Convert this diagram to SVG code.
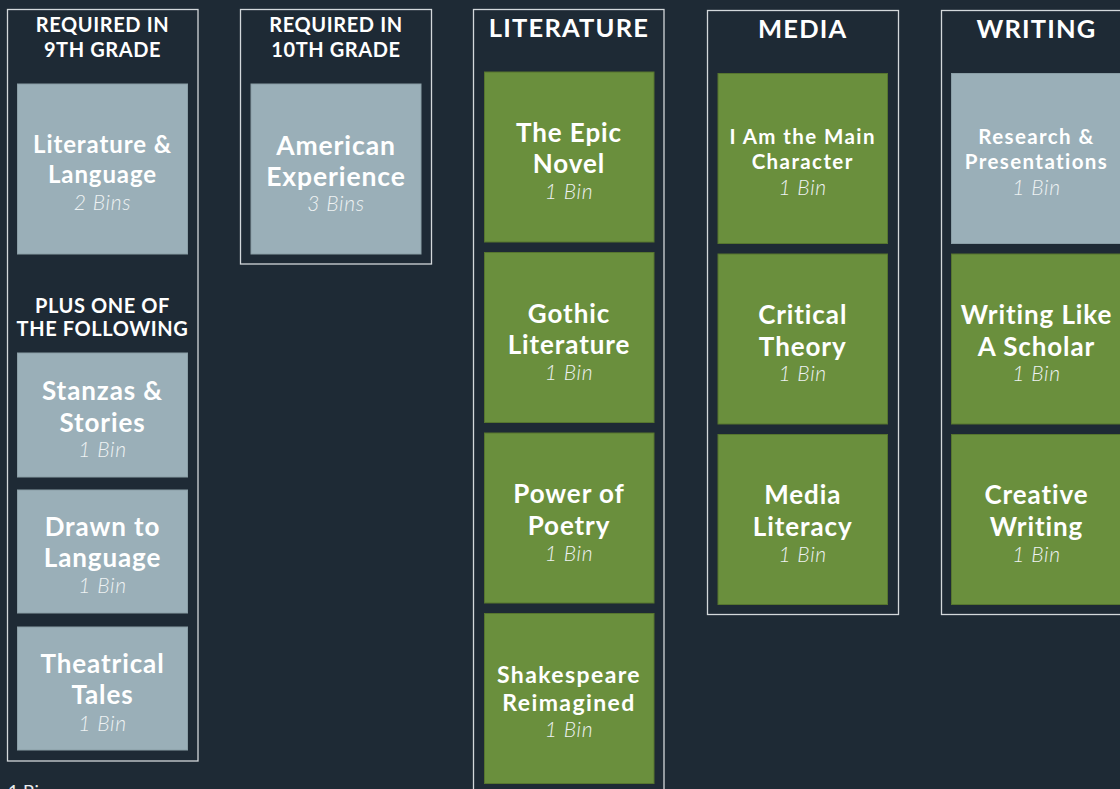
<svg xmlns="http://www.w3.org/2000/svg" width="1120" height="789" viewBox="0 0 1120 789">
<style>
.bg{fill:#1e2a35}
.frame{fill:none;stroke:#d3d8db;stroke-width:1.3}
.gray{fill:#9aafb8;stroke:#8a9ea6;stroke-width:1}
.green{fill:#6a8f3d;stroke:#56752f;stroke-width:1}
.hd{font-family:Lato,"Liberation Sans",sans-serif;font-weight:700;fill:#ffffff;text-anchor:middle}
.h1{font-size:20px;letter-spacing:0.6px}
.h2{font-size:25.5px;letter-spacing:1.2px}
.t{font-family:Lato,"Liberation Sans",sans-serif;font-weight:700;fill:#ffffff;text-anchor:middle;letter-spacing:0.9px}
.s{letter-spacing:1.4px}
.b{font-family:Lato,"Liberation Sans",sans-serif;font-weight:300;font-style:italic;font-size:21px;letter-spacing:0.7px;fill:#eef2f3;text-anchor:middle}
.note{font-family:Lato,"Liberation Sans",sans-serif;font-size:18px;fill:#e8ecee}
</style>
<rect class="bg" x="0" y="0" width="1120" height="789"/>

<g id="col-9th">
<rect class="frame" x="7.5" y="9.5" width="190.5" height="751.5"/>
<text class="hd h1" x="102.5" y="31.5">REQUIRED IN</text>
<text class="hd h1" x="102.5" y="56.5">9TH GRADE</text>
<text class="hd h1" x="102.5" y="312.5">PLUS ONE OF</text>
<text class="hd h1" x="102.5" y="336" letter-spacing="0.1">THE FOLLOWING</text>
</g>
<g id="node-lit-lang">
<rect class="gray" x="17.5" y="84" width="170" height="170"/>
<text class="t" x="102.5" y="153" font-size="24" letter-spacing="0.4">Literature &amp;</text>
<text class="t" x="102.5" y="183" font-size="24" letter-spacing="0.4">Language</text>
<text class="b" x="102.5" y="209.5">2 Bins</text>
</g>
<g id="node-stanzas">
<rect class="gray" x="17.5" y="353" width="170" height="124"/>
<text class="t" x="102.5" y="400" font-size="26">Stanzas &amp;</text>
<text class="t" x="102.5" y="431.5" font-size="26">Stories</text>
<text class="b" x="102.5" y="456.5">1 Bin</text>
</g>
<g id="node-drawn">
<rect class="gray" x="17.5" y="490" width="170" height="123"/>
<text class="t" x="102.5" y="536" font-size="26">Drawn to</text>
<text class="t" x="102.5" y="567" font-size="26">Language</text>
<text class="b" x="102.5" y="593">1 Bin</text>
</g>
<g id="node-theatrical">
<rect class="gray" x="17.5" y="627" width="170" height="123"/>
<text class="t" x="102.5" y="673" font-size="26">Theatrical</text>
<text class="t" x="102.5" y="704" font-size="26">Tales</text>
<text class="b" x="102.5" y="730.5">1 Bin</text>
</g>

<g id="col-10th">
<rect class="frame" x="240.5" y="9.5" width="191" height="254.5"/>
<text class="hd h1" x="336" y="31.5">REQUIRED IN</text>
<text class="hd h1" x="336" y="56.5">10TH GRADE</text>
</g>
<g id="node-american">
<rect class="gray" x="251" y="84" width="170" height="170"/>
<text class="t" x="336" y="154.5" font-size="26.5" letter-spacing="1.1">American</text>
<text class="t" x="336" y="185.5" font-size="26.5" letter-spacing="1.1">Experience</text>
<text class="b" x="336" y="210.5">3 Bins</text>
</g>

<g id="col-literature">
<rect class="frame" x="473.5" y="9.5" width="190.5" height="800"/>
<text class="hd h2" x="569" y="37">LITERATURE</text>
</g>
<g id="node-epic">
<rect class="green" x="484.5" y="72" width="169.5" height="170"/>
<text class="t" x="569" y="141.5" font-size="26">The Epic</text>
<text class="t" x="569" y="173" font-size="26">Novel</text>
<text class="b" x="569" y="199">1 Bin</text>
</g>
<g id="node-gothic">
<rect class="green" x="484.5" y="252.5" width="169.5" height="170"/>
<text class="t" x="569" y="322.5" font-size="26">Gothic</text>
<text class="t" x="569" y="354" font-size="26">Literature</text>
<text class="b" x="569" y="380">1 Bin</text>
</g>
<g id="node-poetry">
<rect class="green" x="484.5" y="433" width="169.5" height="170"/>
<text class="t" x="569" y="503" font-size="26">Power of</text>
<text class="t" x="569" y="534.5" font-size="26">Poetry</text>
<text class="b" x="569" y="560.5">1 Bin</text>
</g>
<g id="node-shakespeare">
<rect class="green" x="484.5" y="613.5" width="169.5" height="170"/>
<text class="t s" x="569" y="683" font-size="23">Shakespeare</text>
<text class="t s" x="569" y="711" font-size="23">Reimagined</text>
<text class="b" x="569" y="736.5">1 Bin</text>
</g>

<g id="col-media">
<rect class="frame" x="707.5" y="10.5" width="191" height="604"/>
<text class="hd h2" x="802.7" y="38">MEDIA</text>
</g>
<g id="node-main-character">
<rect class="green" x="718" y="73.5" width="169.5" height="170"/>
<text class="t s" x="802.7" y="144" font-size="20.5">I Am the Main</text>
<text class="t s" x="802.7" y="168.5" font-size="20.5">Character</text>
<text class="b" x="802.7" y="194.5">1 Bin</text>
</g>
<g id="node-critical">
<rect class="green" x="718" y="254" width="169.5" height="170"/>
<text class="t" x="802.7" y="323.5" font-size="26">Critical</text>
<text class="t" x="802.7" y="355.5" font-size="26">Theory</text>
<text class="b" x="802.7" y="381">1 Bin</text>
</g>
<g id="node-media-literacy">
<rect class="green" x="718" y="434.5" width="169.5" height="170"/>
<text class="t" x="802.7" y="504" font-size="26">Media</text>
<text class="t" x="802.7" y="535.5" font-size="26">Literacy</text>
<text class="b" x="802.7" y="561.5">1 Bin</text>
</g>

<g id="col-writing">
<rect class="frame" x="941.5" y="10.5" width="200" height="604"/>
<text class="hd h2" x="1036.5" y="38">WRITING</text>
</g>
<g id="node-research">
<rect class="gray" x="951.5" y="73.5" width="170" height="170"/>
<text class="t s" x="1036.5" y="144" font-size="20.5">Research &amp;</text>
<text class="t s" x="1036.5" y="168.5" font-size="20.5">Presentations</text>
<text class="b" x="1036.5" y="194.5">1 Bin</text>
</g>
<g id="node-scholar">
<rect class="green" x="951.5" y="254" width="170" height="170"/>
<text class="t" x="1036.5" y="323.5" font-size="26">Writing Like</text>
<text class="t" x="1036.5" y="356" font-size="26">A Scholar</text>
<text class="b" x="1036.5" y="380.5">1 Bin</text>
</g>
<g id="node-creative">
<rect class="green" x="951.5" y="434.5" width="170" height="170"/>
<text class="t" x="1036.5" y="504" font-size="26">Creative</text>
<text class="t" x="1036.5" y="535.5" font-size="26">Writing</text>
<text class="b" x="1036.5" y="561.5">1 Bin</text>
</g>

<g id="connectors"></g>

<g id="footnote">
<text class="note" x="8" y="798">1 Bin</text>
</g>
</svg>
